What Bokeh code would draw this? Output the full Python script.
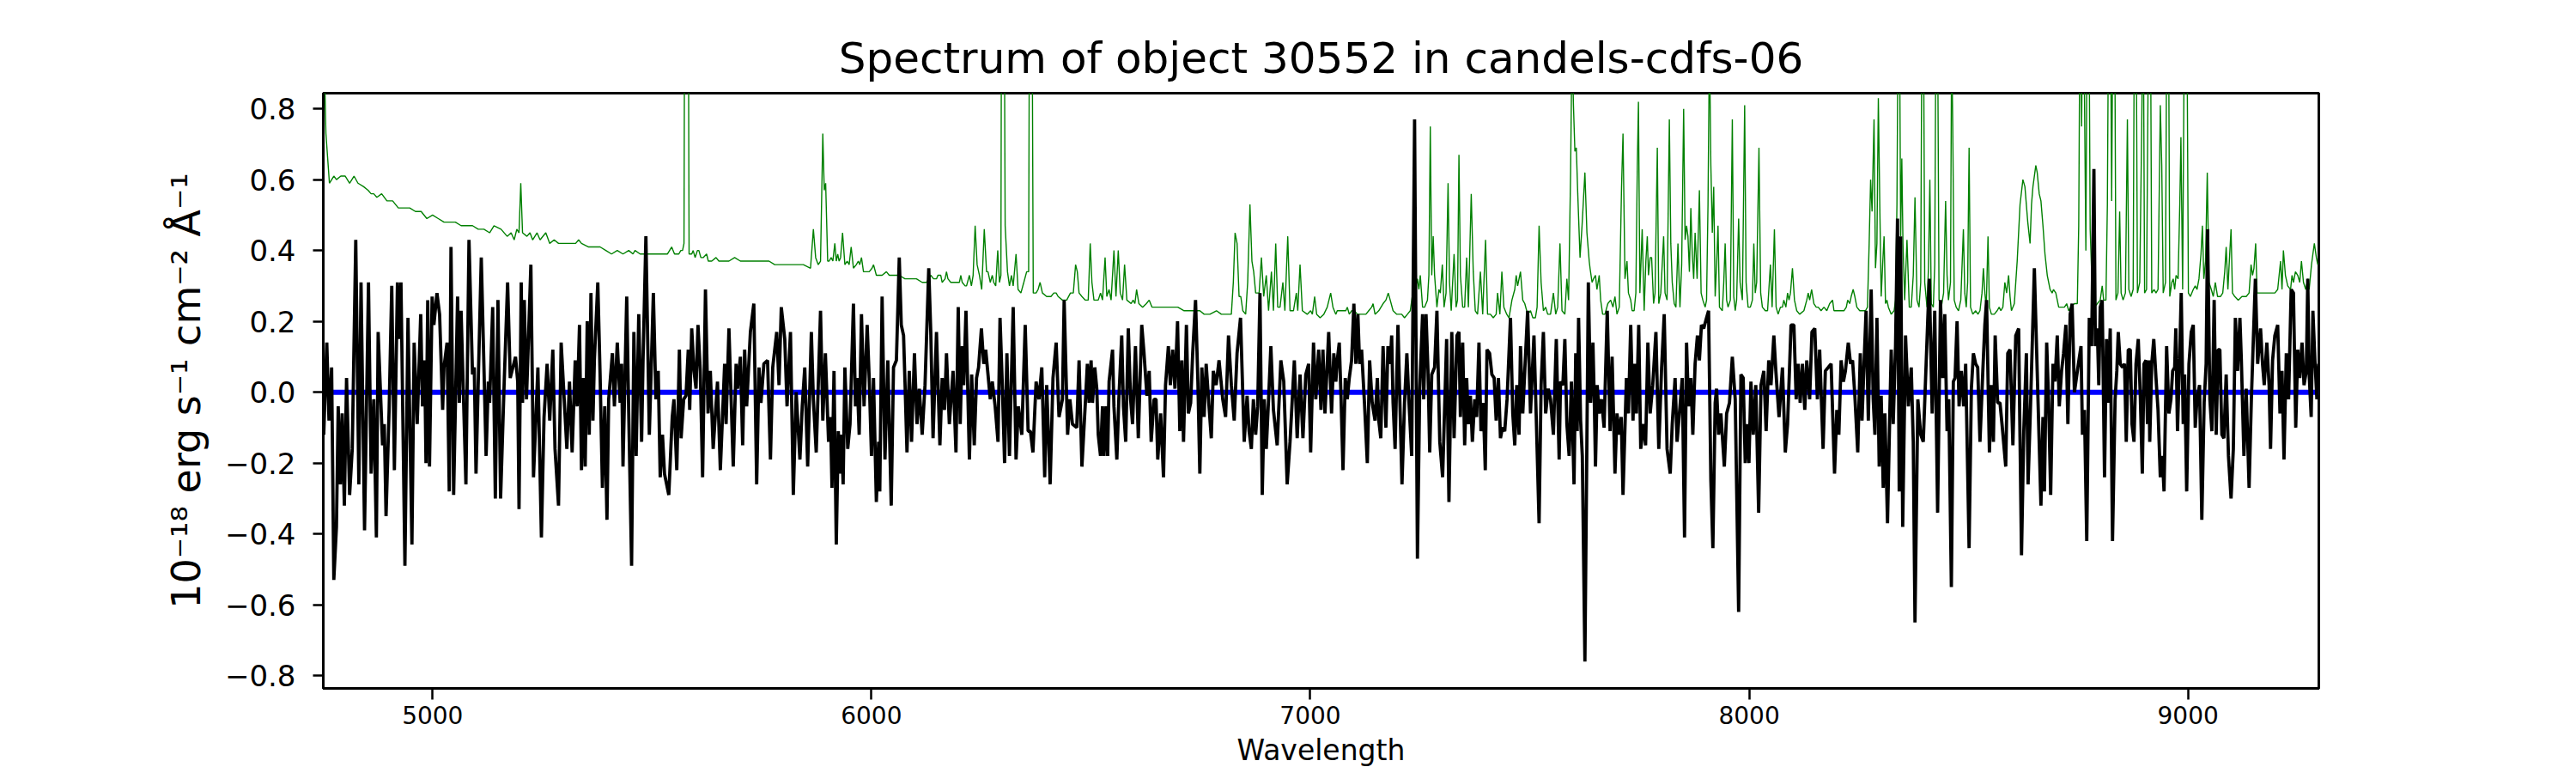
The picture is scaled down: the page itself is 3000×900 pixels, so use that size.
from bokeh.plotting import figure
from bokeh.models import Range1d, FixedTicker, CustomJSTickFormatter, Span
from bokeh.embed import file_html
from bokeh.resources import INLINE

title_text = "Spectrum of object 30552 in candels-cdfs-06"
x_label = "Wavelength"
y_label = "10\u207b\u00b9\u2078 erg s\u207b\u00b9 cm\u207b\u00b2 \u00c5\u207b\u00b9"
x_ticks = [5000, 6000, 7000, 8000, 9000]
y_ticks = [-0.8, -0.6, -0.4, -0.2, 0.0, 0.2, 0.4, 0.6, 0.8]
x_limits = (4751, 9298)
y_limits = (-0.836, 0.844)
zero_level = 0.0

# observed flux (wavelength [A], flux [1e-18 erg/s/cm2/A])
flux_samples = [
    (4752, -0.12), (4759, 0.14), (4764, -0.08), (4770, 0.07), (4775, -0.53), (4781, -0.38), (4785, -0.04),
    (4790, -0.26), (4794, -0.06), (4799, -0.32), (4804, 0.04), (4811, -0.29), (4817, -0.16), (4825, 0.43),
    (4832, -0.26), (4837, 0.31), (4845, -0.39), (4854, 0.31), (4860, -0.23), (4866, -0.02), (4872, -0.41),
    (4876, 0.17), (4886, -0.15), (4890, -0.09), (4894, -0.35), (4901, -0.05), (4907, 0.30), (4913, -0.22),
    (4920, 0.31), (4924, 0.15), (4928, 0.31), (4937, -0.49), (4944, 0.21), (4953, -0.43), (4958, 0.14),
    (4965, -0.09), (4973, 0.22), (4977, -0.04), (4982, 0.09), (4985, -0.20), (4989, 0.26), (4993, -0.21),
    (4999, 0.27), (5003, 0.19), (5010, 0.28), (5016, 0.22), (5023, -0.05), (5026, 0.07), (5033, 0.14),
    (5038, -0.28), (5042, 0.41), (5048, -0.29), (5057, 0.27), (5061, -0.03), (5065, 0.23), (5076, -0.26),
    (5083, 0.43), (5091, 0.05), (5095, 0.07), (5099, -0.23), (5111, 0.38), (5122, -0.18), (5127, 0.03),
    (5130, -0.03), (5137, 0.24), (5143, -0.30), (5149, 0.26), (5155, -0.30), (5163, 0.02), (5171, 0.31),
    (5177, 0.04), (5189, 0.10), (5194, 0.03), (5197, -0.33), (5202, 0.31), (5205, -0.03), (5209, 0.26),
    (5214, -0.02), (5224, 0.36), (5230, -0.24), (5240, 0.07), (5248, -0.41), (5254, -0.07), (5261, 0.08),
    (5267, -0.08), (5274, 0.12), (5279, -0.16), (5287, -0.32), (5293, 0.14), (5306, -0.16), (5312, 0.03),
    (5318, -0.17), (5325, 0.09),
    (5329.5, -0.04), (5334.8, 0.19), (5339.3, -0.22), (5343.9, 0.04), (5347.8, -0.21), (5352.4, 0.20),
    (5357.0, -0.12), (5360.9, 0.28), (5365.4, -0.08), (5368.7, 0.09), (5376.5, 0.31), (5381.7, 0.05),
    (5387.0, -0.27), (5392.2, -0.04), (5397.4, -0.36), (5401.3, -0.02), (5409.8, 0.11), (5414.3, -0.04),
    (5420.9, 0.14), (5427.4, -0.03), (5430.7, 0.08), (5433.9, -0.21), (5442.4, 0.27), (5447.0, -0.06),
    (5453.5, -0.49), (5458.7, 0.17), (5463.9, -0.18), (5469.8, 0.22), (5476.3, -0.14), (5479.6, 0.09),
    (5486.1, 0.44), (5493.9, -0.12), (5503.1, 0.28), (5508.9, -0.02), (5514.2, 0.06), (5518.7, -0.24),
    (5523.9, -0.12), (5528.5, -0.23), (5538.3, -0.29), (5546.1, -0.07), (5550.0, -0.02), (5556.5, -0.22),
    (5562.4, 0.12), (5566.3, -0.13), (5572.2, -0.02), (5577.4, -0.01), (5582.6, 0.12), (5585.9, -0.05),
    (5590.5, 0.18), (5595.7, 0.06), (5600.3, 0.01), (5604.8, 0.19), (5610.0, 0.06), (5615.3, -0.24),
    (5621.8, 0.29), (5627.7, -0.06), (5632.9, 0.06), (5639.4, -0.16), (5649.2, 0.03), (5655.7, -0.22),
    (5665.5, 0.08), (5668.8, -0.09), (5675.3, 0.18), (5685.1, -0.21), (5691.6, 0.08), (5694.8, 0.01),
    (5701.4, 0.10), (5706.6, -0.15), (5711.1, 0.12), (5715.7, -0.04), (5724.2, 0.17), (5732.0, 0.25),
    (5738.5, -0.26), (5743.8, 0.07), (5748.3, -0.03), (5754.9, 0.08), (5763.3, 0.09), (5769.9, -0.19),
    (5775.1, 0.07), (5784.2, 0.17), (5789.4, 0.02), (5794.6, 0.24), (5802.5, 0.15), (5807.7, -0.04),
    (5815.5, 0.17), (5822.0, -0.29), (5828.5, 0.00), (5837.0, -0.19), (5842.3, -0.04), (5848.1, 0.07),
    (5854.7, -0.21), (5863.1, 0.17), (5867.7, -0.02), (5874.2, -0.17), (5884.0, 0.23), (5889.2, -0.08),
    (5895.1, 0.11), (5902.3, -0.14),
    (5906.8, -0.07), (5910.1, -0.27), (5914.7, 0.06), (5919.9, -0.43), (5924.5, -0.11), (5928.4, -0.23),
    (5931.6, -0.12), (5935.5, -0.26), (5939.5, 0.07), (5946.0, -0.16), (5951.2, -0.09), (5959.0, 0.25),
    (5963.6, -0.04), (5967.5, 0.04), (5972.1, -0.12), (5977.3, 0.22), (5983.2, -0.04), (5990.3, 0.19),
    (5994.9, 0.04), (6000.1, -0.18), (6004.7, 0.04), (6011.2, -0.31), (6016.4, -0.14), (6019.0, -0.28),
    (6024.3, 0.27), (6030.8, -0.19), (6037.3, 0.09), (6045.1, -0.32), (6050.3, 0.07), (6056.9, 0.09),
    (6063.4, 0.38), (6068.0, 0.19), (6073.2, 0.16), (6076.4, 0.03), (6081.0, -0.17), (6086.2, 0.06),
    (6091.4, -0.14), (6098.0, 0.11), (6103.8, -0.09), (6109.1, 0.01), (6115.6, -0.12), (6122.1, 0.02),
    (6130.6, 0.35), (6135.2, 0.17), (6140.4, -0.13), (6148.2, 0.17), (6156.0, -0.15), (6161.2, 0.04),
    (6166.5, -0.05), (6171.0, 0.11), (6177.5, -0.09), (6186.0, 0.06), (6192.6, -0.17), (6197.8, 0.24),
    (6202.3, -0.09), (6206.9, 0.13), (6210.2, 0.02), (6215.4, 0.23), (6223.2, -0.19), (6228.4, 0.05),
    (6234.3, -0.15), (6239.5, 0.04), (6244.1, 0.07), (6250.6, 0.18), (6255.8, 0.08), (6260.4, 0.12),
    (6265.6, 0.05), (6270.8, -0.02), (6275.4, 0.03), (6281.9, -0.04), (6288.4, -0.14), (6293.0, 0.21),
    (6298.2, 0.02), (6303.4, -0.20), (6308.7, 0.11), (6314.5, -0.18), (6323.0, 0.24), (6329.5, -0.19),
    (6334.8, -0.04), (6342.6, -0.12), (6350.4, 0.19), (6357.0, -0.11), (6362.2, -0.11), (6368.0, -0.17),
    (6375.2, 0.03), (6381.7, -0.02), (6388.2, 0.07), (6394.8, -0.24), (6399.3, 0.02), (6407.2, -0.26),
    (6413.7, 0.04), (6420.9, 0.14), (6427.4, -0.07), (6435.2, -0.02), (6439.1, 0.26), (6447.0, -0.12),
    (6452.2, -0.02), (6458.0, -0.09), (6467.8, -0.10), (6473.1, 0.09), (6479.6, -0.21),
    (6487.4, -0.03), (6492.0, 0.08), (6495.9, -0.03), (6500.5, 0.09), (6503.7, -0.03), (6508.9, 0.07),
    (6513.5, 0.01), (6516.8, -0.12), (6522.0, -0.18), (6526.5, -0.04), (6529.8, -0.18), (6534.4, -0.04),
    (6538.3, -0.18), (6541.5, 0.03), (6549.4, 0.12), (6552.6, -0.04), (6559.2, -0.19), (6563.7, -0.02),
    (6570.3, 0.16), (6574.2, -0.04), (6579.4, -0.14), (6585.3, 0.18), (6590.5, -0.02), (6595.0, -0.09),
    (6601.6, 0.13), (6608.1, -0.13), (6615.9, 0.19), (6621.1, 0.11), (6627.7, -0.01), (6632.9, 0.06),
    (6637.4, -0.14), (6644.0, -0.02), (6648.5, -0.02), (6652.4, -0.19), (6659.0, -0.06), (6665.5, -0.24),
    (6670.1, 0.02), (6676.6, 0.13), (6681.1, 0.02), (6686.4, 0.12), (6691.6, 0.01), (6697.5, 0.20),
    (6702.7, -0.11), (6707.2, 0.09), (6711.1, -0.14), (6717.7, 0.19), (6722.2, -0.06), (6727.4, -0.03),
    (6732.0, 0.11), (6738.5, 0.26), (6743.8, 0.03), (6748.3, -0.23), (6752.9, 0.07), (6758.1, -0.07),
    (6762.7, 0.08), (6769.2, -0.04), (6774.4, -0.13), (6779.0, 0.06), (6785.5, 0.02), (6792.0, 0.09),
    (6800.5, -0.02), (6807.0, -0.07), (6813.6, 0.16), (6820.1, 0.02), (6826.6, -0.08), (6833.1, 0.11),
    (6841.0, 0.21), (6849.4, -0.14), (6856.0, -0.01), (6860.5, -0.11), (6865.7, -0.16), (6870.3, -0.02),
    (6875.5, -0.12), (6880.1, -0.04), (6885.3, 0.28), (6890.5, -0.29), (6895.1, -0.02), (6899.7, -0.16),
    (6904.9, -0.02), (6910.1, 0.13), (6916.0, -0.05), (6924.5, -0.15), (6932.9, 0.09), (6939.5, 0.03),
    (6947.3, -0.26), (6953.8, -0.14), (6963.6, 0.09), (6970.1, -0.13), (6976.6, 0.05), (6983.2, -0.13),
    (6989.7, 0.05), (6996.2, 0.08), (7000.8, -0.17), (7007.3, 0.14), (7012.5, -0.02), (7019.0, 0.12),
    (7024.3, -0.05), (7028.8, 0.12), (7033.4, -0.06), (7041.9, 0.17), (7048.4, -0.06), (7053.6, 0.11),
    (7058.2, 0.03), (7061.4, 0.09), (7066.0, 0.14), (7069.9, -0.01), (7074.5, -0.22), (7079.7, 0.04),
    (7084.3, -0.02), (7088.8, 0.04), (7094.1, 0.09), (7099.3, 0.25), (7103.8, 0.08), (7108.4, 0.22),
    (7112.3, 0.08), (7116.9, 0.12), (7123.4, -0.03), (7129.9, -0.20), (7135.2, 0.09), (7141.0, -0.03),
    (7147.5, -0.08), (7152.8, 0.04), (7156.0, -0.08), (7160.6, -0.13), (7165.8, 0.13), (7172.3, -0.10),
    (7176.9, 0.13), (7182.1, 0.08), (7185.4, 0.16), (7188.6, -0.03), (7193.2, -0.16), (7199.7, 0.19),
    (7208.9, -0.26), (7214.7, -0.03), (7220.0, 0.11), (7224.5, -0.02), (7231.0, -0.18), (7237.6, 0.77),
    (7244.1, -0.47), (7249.3, 0.01), (7255.8, 0.22), (7258.4, -0.02), (7263.7, 0.22), (7268.2, 0.06),
    (7272.1, -0.17), (7276.7, 0.05), (7283.2, 0.07), (7288.5, 0.23), (7295.0, -0.14), (7301.5, -0.24),
    (7310.6, 0.15), (7315.9, -0.31), (7322.4, 0.17), (7327.6, -0.13), (7334.1, 0.16), (7338.7, 0.17),
    (7342.0, -0.07), (7347.2, 0.14), (7351.7, -0.15), (7356.3, 0.04), (7360.2, -0.09), (7364.8, -0.01),
    (7369.3, -0.14), (7374.6, -0.02), (7379.1, -0.07), (7384.3, 0.14), (7388.9, -0.11), (7394.1, -0.03),
    (7398.7, -0.22), (7402.6, 0.12), (7408.5, 0.11), (7413.7, 0.05), (7418.9, 0.04), (7423.5, -0.08),
    (7428.7, 0.04), (7433.3, -0.13), (7437.8, -0.10), (7443.0, -0.11), (7448.3, -0.02), (7456.1, 0.21),
    (7461.3, -0.06), (7465.9, -0.15), (7470.4, 0.02), (7475.7, -0.12), (7478.9, 0.13), (7484.1, -0.06),
    (7488.7, 0.06), (7495.2, 0.23), (7501.7, -0.06), (7509.6, 0.16), (7514.8, -0.07), (7521.3, -0.37),
    (7525.9, 0.02), (7531.1, 0.17), (7536.3, -0.06), (7542.2, 0.01), (7547.4, -0.02), (7553.9, -0.12),
    (7560.5, 0.15), (7567.0, -0.19), (7570.2, 0.03), (7575.5, 0.02), (7580.0, 0.15), (7584.6, -0.09),
    (7589.8, -0.18), (7595.0, 0.03), (7600.9, -0.26), (7604.8, 0.11), (7608.1, -0.11), (7611.3, 0.21),
    (7615.9, -0.08), (7619.8, -0.18), (7625.7, -0.76), (7633.5, 0.31),
    (7638.7, -0.03), (7644.0, 0.14), (7647.2, -0.03), (7649.8, -0.21), (7653.7, 0.02), (7658.3, -0.06),
    (7663.5, -0.02), (7669.4, -0.10), (7676.6, 0.23), (7683.1, -0.11), (7687.7, 0.10), (7694.2, -0.23),
    (7698.8, -0.06), (7704.0, -0.12), (7708.5, -0.07), (7712.5, -0.29), (7720.3, 0.04), (7724.9, -0.06),
    (7730.1, 0.19), (7735.3, -0.08), (7738.6, 0.08), (7743.1, -0.06), (7748.3, 0.19), (7752.9, -0.16),
    (7759.4, -0.09), (7764.0, -0.15), (7769.2, 0.14), (7774.4, -0.06), (7780.3, 0.02), (7787.5, 0.17),
    (7794.0, -0.16), (7800.5, 0.07), (7806.4, 0.22), (7812.9, -0.16), (7820.1, -0.23), (7824.7, -0.09),
    (7831.2, 0.04), (7835.7, -0.14), (7841.0, -0.06), (7847.5, 0.04), (7852.7, -0.41), (7857.3, 0.14),
    (7861.8, -0.04), (7867.1, 0.04), (7871.6, -0.12), (7876.8, 0.08), (7882.1, 0.16), (7886.6, 0.09),
    (7891.2, 0.19), (7896.4, 0.18), (7902.9, 0.21), (7907.5, 0.23), (7912.7, -0.25), (7917.3, -0.44),
    (7922.5, -0.03), (7925.8, 0.01), (7930.3, -0.12), (7935.5, -0.06), (7943.4, -0.21), (7948.6, -0.06),
    (7955.1, -0.03), (7961.6, 0.10), (7968.2, -0.02), (7976.0, -0.62), (7981.2, 0.05), (7986.4, 0.04),
    (7991.0, -0.20), (7995.6, -0.09), (7999.5, -0.20), (8004.0, 0.03), (8009.3, -0.12), (8015.1, 0.02),
    (8021.6, -0.34), (8026.9, 0.02), (8033.4, 0.06), (8038.6, -0.11), (8044.5, 0.09), (8049.7, 0.02),
    (8056.2, 0.16), (8060.8, 0.06), (8068.0, -0.07), (8075.8, 0.07), (8082.3, -0.17), (8087.5, -0.09),
    (8095.4, 0.19), (8101.9, 0.19), (8107.1, -0.02), (8111.7, 0.08), (8116.2, -0.03), (8121.4, 0.08),
    (8126.7, -0.05), (8131.2, 0.09), (8137.8, -0.02), (8143.0, 0.17), (8149.5, 0.18), (8155.4, -0.02),
    (8160.6, 0.12), (8168.4, -0.16), (8173.6, 0.06), (8180.2, 0.07), (8186.7, 0.08), (8194.5, -0.23),
    (8199.7, -0.05), (8204.3, -0.12), (8209.5, 0.09),
    (8214.7, 0.03), (8219.3, 0.06), (8225.8, 0.14), (8231.0, 0.08), (8235.6, 0.09), (8240.8, -0.01),
    (8247.4, -0.17), (8253.2, 0.11), (8257.1, -0.08), (8261.7, 0.08), (8266.3, 0.23), (8271.5, -0.08),
    (8278.0, 0.29), (8282.6, -0.02), (8286.5, -0.12), (8291.1, 0.21), (8296.3, -0.21), (8300.8, -0.01),
    (8305.4, -0.27), (8309.3, -0.06), (8315.2, -0.37), (8320.4, -0.06), (8323.7, 0.12), (8328.2, -0.09),
    (8333.5, 0.13), (8338.0, 0.49), (8341.9, -0.28), (8345.2, 0.44), (8349.8, -0.38), (8356.3, 0.16),
    (8362.8, -0.04), (8369.3, 0.07), (8373.9, -0.14), (8377.8, -0.65), (8384.3, -0.02), (8390.9, -0.12),
    (8396.7, -0.14), (8402.0, 0.04), (8410.4, 0.32), (8417.0, -0.06), (8422.8, 0.23), (8429.4, -0.34),
    (8435.9, 0.26), (8441.1, 0.04), (8445.7, 0.22), (8450.9, -0.11), (8454.8, -0.02), (8460.7, -0.55),
    (8465.2, 0.03), (8469.1, 0.04), (8473.7, 0.20), (8478.3, -0.04), (8483.5, 0.06), (8488.7, -0.04),
    (8493.3, 0.08), (8501.1, -0.44), (8506.3, 0.01), (8510.9, 0.11), (8516.1, 0.08), (8520.7, 0.07),
    (8525.9, -0.14), (8532.4, 0.06), (8537.0, 0.19), (8540.9, 0.26), (8547.4, -0.17), (8552.0, 0.02),
    (8556.5, -0.14), (8560.5, 0.16), (8566.3, -0.03), (8571.5, -0.03), (8576.1, -0.09), (8584.6, -0.21),
    (8589.2, 0.11), (8594.4, 0.12), (8600.9, -0.15), (8607.4, 0.16), (8614.0, 0.18), (8620.5, -0.46),
    (8625.7, -0.11), (8631.6, 0.11), (8635.5, -0.26), (8641.3, -0.03), (8649.8, 0.35), (8656.3, 0.06),
    (8664.8, -0.32), (8669.4, -0.07), (8672.7, -0.28), (8677.9, 0.14), (8682.4, -0.03), (8687.0, -0.29),
    (8692.2, 0.08), (8696.8, 0.03), (8702.0, 0.16), (8706.6, -0.04), (8711.8, 0.06), (8716.4, 0.11),
    (8721.6, 0.19), (8726.2, -0.09), (8731.4, 0.22), (8735.9, 0.25), (8741.1, 0.00), (8749.0, 0.07),
    (8756.1, 0.13), (8759.4, -0.12), (8764.0, -0.05), (8769.2, -0.42), (8775.0, 0.21), (8780.3, 0.13),
    (8785.5, 0.63), (8788.8, 0.13),
    (8793.3, 0.18), (8796.6, 0.02), (8799.9, 0.24), (8804.4, 0.26), (8809.7, -0.24), (8814.2, 0.15),
    (8817.5, -0.03), (8822.7, 0.18), (8827.9, -0.42), (8833.8, -0.02), (8837.7, 0.06), (8841.0, 0.17),
    (8845.5, 0.08), (8850.7, 0.07), (8855.3, 0.08), (8859.2, -0.14), (8863.8, 0.12), (8868.4, 0.12),
    (8872.3, -0.09), (8876.8, -0.14), (8881.4, 0.08), (8886.6, 0.15), (8891.2, -0.01), (8895.8, -0.23),
    (8899.7, 0.08), (8904.2, 0.09), (8907.5, -0.09), (8910.8, 0.09), (8912.7, -0.14), (8917.3, 0.08),
    (8921.9, 0.15), (8927.0, 0.04), (8931.6, -0.05), (8936.8, -0.24), (8941.4, -0.18), (8945.3, -0.28),
    (8951.2, 0.13), (8956.4, -0.06), (8961.0, -0.02), (8964.9, 0.06), (8969.5, 0.07), (8972.1, 0.18),
    (8976.0, -0.11), (8980.6, 0.09), (8984.5, 0.28), (8989.0, -0.09), (8992.3, 0.05), (8996.9, -0.28),
    (9002.1, 0.08), (9007.3, 0.17), (9011.9, 0.19), (9016.4, -0.10), (9020.4, -0.02), (9026.2, 0.02),
    (9031.4, -0.36), (9036.7, -0.03), (9041.2, 0.08), (9044.5, 0.46), (9049.7, -0.02), (9054.3, -0.11),
    (9059.5, 0.26), (9064.1, -0.12), (9068.6, 0.12), (9072.5, 0.12), (9077.1, -0.12), (9081.7, -0.13),
    (9086.9, 0.05), (9092.1, -0.18), (9098.0, -0.30), (9103.2, -0.16), (9107.8, 0.21), (9113.0, 0.06),
    (9118.2, 0.21), (9121.5, 0.09), (9127.3, -0.18), (9132.5, 0.01), (9139.1, -0.27), (9144.3, -0.02),
    (9148.8, 0.15), (9153.4, 0.32), (9158.6, 0.08), (9165.2, 0.18), (9169.7, 0.08), (9173.6, 0.02),
    (9179.5, 0.14), (9184.7, 0.02), (9188.0, -0.16), (9192.6, 0.09), (9197.8, 0.16), (9204.3, 0.19),
    (9209.5, -0.06), (9214.1, 0.06), (9218.6, -0.19), (9223.9, 0.11), (9229.1, -0.02), (9235.0, 0.29),
    (9240.2, 0.28), (9245.4, -0.10), (9250.0, 0.12), (9254.5, 0.04), (9259.7, 0.14), (9264.3, 0.02),
    (9269.5, 0.06), (9272.8, 0.32), (9276.0, 0.05), (9280.6, -0.07), (9284.5, 0.23), (9289.1, 0.09),
    (9293.6, -0.02), (9297.6, 0.08),
]

# noise / sky spectrum (wavelength [A], value); values above the frame are clipped by the view
error_samples = [
    (4752, 1.00), (4757, 0.73), (4765, 0.59), (4775, 0.61), (4781, 0.60), (4791, 0.61), (4801, 0.61),
    (4811, 0.59), (4821, 0.61), (4830, 0.59), (4843, 0.58), (4853, 0.57), (4860, 0.56), (4866, 0.56),
    (4873, 0.55), (4884, 0.56), (4896, 0.54), (4909, 0.54), (4922, 0.52), (4935, 0.52), (4948, 0.52),
    (4961, 0.51), (4974, 0.51), (4987, 0.49), (5000, 0.50), (5013, 0.49), (5026, 0.48), (5039, 0.48),
    (5052, 0.48), (5065, 0.47), (5078, 0.47), (5091, 0.47), (5104, 0.46), (5117, 0.46), (5130, 0.45),
    (5140, 0.47), (5156, 0.46), (5170, 0.44), (5179, 0.45), (5186, 0.43), (5192, 0.46), (5197, 0.45),
    (5201, 0.59), (5205, 0.45), (5215, 0.44), (5222, 0.45), (5228, 0.43), (5238, 0.45), (5245, 0.43),
    (5258, 0.45), (5267, 0.42), (5277, 0.43), (5287, 0.42), (5300, 0.42), (5313, 0.42), (5326, 0.42),
    (5332.8, 0.43), (5339.3, 0.42), (5355.6, 0.41), (5368.7, 0.41), (5381.7, 0.41), (5394.8, 0.40),
    (5407.8, 0.39), (5420.9, 0.40), (5433.9, 0.39), (5447.0, 0.40), (5456.7, 0.39), (5461.3, 0.40),
    (5473.0, 0.39), (5486.1, 0.39), (5499.1, 0.39), (5512.2, 0.39), (5525.2, 0.39), (5535.0, 0.39),
    (5544.8, 0.41), (5551.3, 0.39), (5561.1, 0.39), (5565.7, 0.40), (5569.6, 0.40), (5572.9, 0.42),
    (5575.0, 1.50), (5582.0, 1.50), (5584.5, 0.39), (5590.5, 0.39), (5593.7, 0.40), (5598.3, 0.38),
    (5603.5, 0.40), (5606.8, 0.40), (5611.3, 0.38), (5616.6, 0.38), (5624.4, 0.39), (5628.3, 0.37),
    (5636.1, 0.37), (5645.9, 0.38), (5652.4, 0.37), (5662.2, 0.37), (5675.3, 0.37), (5688.3, 0.38),
    (5701.4, 0.37), (5714.4, 0.37), (5727.5, 0.37), (5740.5, 0.37), (5753.5, 0.37), (5766.6, 0.37),
    (5779.6, 0.36), (5792.7, 0.36), (5812.3, 0.36), (5831.8, 0.36), (5844.9, 0.36), (5861.2, 0.35),
    (5867.7, 0.46), (5872.9, 0.38), (5878.8, 0.36), (5884.0, 0.37), (5889.2, 0.73), (5892.5, 0.57),
    (5895.7, 0.59), (5900.3, 0.37),
    (5903.6, 0.37), (5908.2, 0.38), (5912.1, 0.37), (5916.6, 0.42), (5919.9, 0.37), (5923.2, 0.39),
    (5926.4, 0.37), (5929.7, 0.38), (5934.2, 0.45), (5939.5, 0.36), (5944.7, 0.37), (5949.2, 0.36),
    (5953.8, 0.41), (5959.0, 0.35), (5965.6, 0.36), (5970.1, 0.37), (5973.4, 0.36), (5977.3, 0.38),
    (5981.9, 0.34), (5988.4, 0.34), (5994.9, 0.34), (6001.4, 0.35), (6004.7, 0.36), (6011.2, 0.33),
    (6024.3, 0.33), (6034.1, 0.34), (6040.6, 0.33), (6050.3, 0.33), (6063.4, 0.33), (6076.4, 0.32),
    (6089.5, 0.32), (6102.5, 0.32), (6115.6, 0.31), (6125.4, 0.31), (6135.2, 0.33), (6141.7, 0.32),
    (6148.2, 0.32), (6151.5, 0.33), (6158.0, 0.33), (6161.2, 0.31), (6167.8, 0.32), (6171.0, 0.34),
    (6174.3, 0.32), (6180.8, 0.31), (6193.9, 0.31), (6200.4, 0.31), (6203.6, 0.33), (6206.9, 0.31),
    (6213.4, 0.30), (6216.7, 0.30), (6223.2, 0.33), (6227.8, 0.30), (6231.7, 0.33), (6236.3, 0.47),
    (6240.8, 0.36), (6246.1, 0.33), (6251.3, 0.29), (6257.1, 0.46), (6262.3, 0.34), (6265.6, 0.34),
    (6270.8, 0.31), (6275.4, 0.33), (6278.7, 0.31), (6283.2, 0.30), (6287.8, 0.40), (6291.7, 0.31),
    (6295.0, 0.33), (6296.9, 1.50), (6301.5, 1.50), (6304.7, 0.47), (6310.0, 0.34), (6314.5, 0.30),
    (6319.1, 0.33), (6323.0, 0.30), (6329.5, 0.39), (6334.1, 0.29), (6340.6, 0.28), (6347.2, 0.31),
    (6353.7, 0.34), (6358.2, 0.34), (6360.9, 1.50), (6364.8, 1.50), (6368.7, 0.28), (6375.2, 0.28),
    (6379.8, 0.29), (6384.3, 0.31), (6389.6, 0.28), (6399.3, 0.27), (6409.1, 0.27), (6415.6, 0.28),
    (6420.9, 0.28), (6425.4, 0.27), (6435.2, 0.26), (6445.0, 0.26), (6453.5, 0.28), (6460.0, 0.28),
    (6465.2, 0.36), (6469.1, 0.34), (6473.1, 0.28), (6479.6, 0.27),
    (6487.4, 0.26), (6494.0, 0.26), (6498.5, 0.42), (6502.4, 0.31), (6507.0, 0.26), (6511.5, 0.26),
    (6516.8, 0.26), (6522.0, 0.28), (6526.5, 0.26), (6532.4, 0.38), (6536.3, 0.27), (6541.5, 0.29),
    (6546.1, 0.26), (6552.6, 0.40), (6557.2, 0.27), (6562.4, 0.40), (6567.0, 0.28), (6572.2, 0.26),
    (6576.8, 0.36), (6582.0, 0.26), (6591.8, 0.25), (6596.3, 0.26), (6600.3, 0.25), (6604.2, 0.29),
    (6609.4, 0.25), (6617.9, 0.24), (6626.4, 0.25), (6632.9, 0.26), (6639.4, 0.24), (6650.5, 0.24),
    (6666.8, 0.24), (6679.8, 0.24), (6698.1, 0.24), (6712.5, 0.23), (6725.5, 0.23), (6732.0, 0.23),
    (6739.9, 0.23), (6748.3, 0.23), (6758.1, 0.22), (6771.2, 0.22), (6786.2, 0.23), (6797.3, 0.22),
    (6810.3, 0.22), (6820.1, 0.22), (6824.6, 0.31), (6828.6, 0.45), (6833.1, 0.42), (6837.7, 0.27),
    (6841.6, 0.27), (6846.2, 0.23), (6852.7, 0.22), (6857.3, 0.31), (6862.5, 0.53), (6867.0, 0.37),
    (6871.0, 0.34), (6875.5, 0.28), (6878.8, 0.28), (6883.4, 0.28), (6888.6, 0.38), (6893.8, 0.27),
    (6899.7, 0.33), (6904.9, 0.23), (6911.4, 0.34), (6916.0, 0.23), (6921.2, 0.42), (6925.8, 0.24),
    (6931.0, 0.24), (6937.5, 0.31), (6942.1, 0.23), (6948.6, 0.44), (6953.8, 0.23), (6961.6, 0.23),
    (6968.2, 0.28), (6971.4, 0.23), (6976.6, 0.36), (6981.9, 0.23), (6992.9, 0.22), (7000.8, 0.23),
    (7004.7, 0.22), (7009.9, 0.27), (7014.5, 0.22), (7022.3, 0.21), (7030.8, 0.22), (7038.6, 0.24),
    (7046.4, 0.28), (7051.6, 0.24), (7058.1, 0.22),
    (7061.4, 0.23), (7068.0, 0.23), (7074.5, 0.23), (7081.0, 0.23), (7084.3, 0.24), (7088.8, 0.22),
    (7094.1, 0.23), (7100.6, 0.23), (7107.1, 0.22), (7113.6, 0.22), (7120.2, 0.22), (7126.7, 0.22),
    (7133.2, 0.23), (7139.7, 0.24), (7143.0, 0.25), (7147.5, 0.22), (7156.0, 0.23), (7165.8, 0.25),
    (7172.3, 0.26), (7177.6, 0.28), (7182.1, 0.26), (7188.6, 0.23), (7197.1, 0.22), (7208.2, 0.22),
    (7214.7, 0.21), (7221.3, 0.22), (7227.8, 0.23), (7232.3, 0.27), (7237.6, 0.28), (7244.1, 0.32),
    (7247.4, 0.29), (7250.6, 0.33), (7255.8, 0.24), (7260.4, 0.24), (7266.9, 0.26), (7270.2, 0.33),
    (7273.4, 0.75), (7276.7, 0.33), (7280.0, 0.44), (7283.2, 0.33), (7288.5, 0.24), (7293.0, 0.29),
    (7296.3, 0.28), (7300.8, 0.36), (7304.8, 0.24), (7309.3, 0.28), (7313.9, 0.59), (7317.2, 0.31),
    (7321.1, 0.23), (7327.6, 0.39), (7332.2, 0.24), (7335.4, 0.26), (7338.7, 0.67), (7342.0, 0.33),
    (7347.2, 0.24), (7351.7, 0.24), (7356.3, 0.38), (7360.2, 0.24), (7366.7, 0.56), (7371.3, 0.34),
    (7375.9, 0.23), (7381.1, 0.22), (7387.6, 0.34), (7392.8, 0.22), (7399.3, 0.43), (7403.9, 0.22),
    (7410.4, 0.22), (7416.9, 0.21), (7423.5, 0.22), (7426.7, 0.28), (7432.0, 0.22), (7436.5, 0.34),
    (7441.1, 0.24), (7447.6, 0.22), (7452.8, 0.21), (7459.4, 0.26), (7465.9, 0.29), (7469.1, 0.33),
    (7472.4, 0.30), (7478.9, 0.34), (7484.1, 0.26), (7488.7, 0.25), (7495.2, 0.22), (7501.7, 0.23),
    (7507.0, 0.21), (7512.8, 0.21), (7516.8, 0.24), (7521.3, 0.47), (7525.9, 0.31), (7531.1, 0.23),
    (7536.3, 0.24), (7540.9, 0.22), (7547.4, 0.22), (7553.9, 0.28), (7559.2, 0.22), (7563.7, 0.24),
    (7568.9, 0.42), (7573.5, 0.23), (7580.0, 0.22), (7584.6, 0.32), (7588.5, 0.26), (7593.1, 0.62),
    (7596.3, 1.00), (7599.6, 0.81), (7602.9, 0.68), (7606.1, 0.69), (7609.4, 0.56), (7614.6, 0.38),
    (7619.2, 0.47), (7625.7, 0.62), (7630.3, 0.45), (7635.5, 0.37),
    (7637.4, 0.35), (7642.0, 0.31), (7645.3, 0.32), (7649.8, 0.33), (7653.1, 0.29), (7658.3, 0.33),
    (7661.6, 0.26), (7666.1, 0.22), (7671.4, 0.22), (7677.9, 0.25), (7684.4, 0.26), (7689.6, 0.24),
    (7694.2, 0.27), (7698.8, 0.22), (7704.0, 0.24), (7709.2, 0.58), (7712.5, 0.73), (7717.0, 0.32),
    (7721.6, 0.37), (7724.9, 0.28), (7730.1, 0.26), (7733.3, 0.23), (7737.9, 0.23), (7741.8, 0.28),
    (7745.1, 0.64), (7747.7, 0.82), (7751.0, 0.28), (7756.2, 0.46), (7760.7, 0.23), (7764.6, 0.37),
    (7767.9, 0.44), (7770.5, 0.33), (7774.4, 0.38), (7777.7, 0.38), (7782.2, 0.25), (7785.5, 0.28),
    (7790.7, 0.69), (7794.0, 0.25), (7798.6, 0.28), (7805.1, 0.44), (7808.3, 0.28), (7812.9, 0.26),
    (7818.1, 0.77), (7821.4, 0.42), (7824.7, 0.31), (7829.2, 0.25), (7833.1, 0.24), (7837.7, 0.42),
    (7842.3, 0.24), (7846.2, 0.36), (7850.7, 0.80), (7854.0, 0.43), (7857.3, 0.47), (7860.5, 0.44),
    (7863.8, 0.34), (7867.1, 0.52), (7870.3, 0.39), (7873.6, 0.32), (7876.8, 0.45), (7881.4, 0.32),
    (7886.6, 0.57), (7890.5, 0.28), (7894.4, 0.26), (7899.7, 0.24), (7902.9, 0.26), (7906.2, 0.53),
    (7909.5, 1.00), (7912.7, 0.64), (7916.0, 0.45), (7919.2, 0.58), (7922.5, 0.27), (7925.8, 0.36),
    (7929.0, 0.47), (7932.3, 0.24), (7938.8, 0.23), (7942.1, 0.31), (7945.3, 0.42), (7948.6, 0.26),
    (7951.9, 0.24), (7957.1, 0.26), (7961.6, 0.77), (7964.9, 0.27), (7968.2, 0.23), (7971.4, 0.26),
    (7976.0, 0.49), (7979.3, 0.31), (7984.5, 0.26), (7989.7, 0.81), (7993.0, 0.31), (7997.5, 0.24),
    (8002.7, 0.24), (8007.3, 0.26), (8010.6, 0.42), (8013.8, 0.28), (8017.1, 0.31), (8022.3, 0.69),
    (8026.2, 0.28), (8030.1, 0.24), (8036.7, 0.23), (8041.9, 0.23), (8048.4, 0.36), (8052.3, 0.24),
    (8057.5, 0.46), (8061.4, 0.24), (8066.0, 0.22), (8071.2, 0.24), (8075.8, 0.24), (8079.0, 0.26),
    (8083.6, 0.24), (8087.5, 0.28), (8090.8, 0.26), (8094.1, 0.28), (8098.6, 0.35), (8103.2, 0.26),
    (8108.4, 0.23), (8114.9, 0.22), (8124.7, 0.23), (8131.2, 0.26), (8134.5, 0.28), (8137.8, 0.26),
    (8142.3, 0.29), (8147.5, 0.25), (8152.8, 0.24), (8157.3, 0.24), (8163.8, 0.23), (8170.4, 0.24),
    (8176.9, 0.23), (8183.4, 0.25), (8190.0, 0.26), (8193.2, 0.23), (8199.7, 0.23), (8206.2, 0.23),
    (8212.8, 0.23),
    (8216.0, 0.23), (8221.3, 0.24), (8224.5, 0.26), (8229.1, 0.25), (8232.4, 0.27), (8236.9, 0.29),
    (8240.8, 0.27), (8245.4, 0.24), (8251.9, 0.23), (8258.4, 0.23), (8265.0, 0.23), (8269.5, 0.24),
    (8273.4, 0.42), (8276.7, 0.60), (8280.0, 0.51), (8284.5, 0.77), (8287.8, 0.35), (8291.1, 0.42),
    (8294.3, 0.83), (8297.6, 0.53), (8300.8, 0.27), (8304.1, 0.36), (8307.4, 0.44), (8310.6, 0.25),
    (8313.9, 0.26), (8317.2, 0.24), (8323.7, 0.22), (8330.2, 0.23), (8333.5, 0.26), (8336.7, 0.53),
    (8340.0, 1.20), (8341.9, 1.20), (8345.2, 0.44), (8347.8, 0.66), (8350.4, 0.42), (8354.3, 0.26),
    (8359.6, 0.43), (8364.8, 0.24), (8369.3, 0.24), (8373.9, 0.33), (8377.8, 0.55), (8382.4, 0.26),
    (8387.0, 0.24), (8390.9, 0.31), (8394.1, 1.20), (8396.7, 1.20), (8400.0, 0.31), (8405.2, 0.24),
    (8408.5, 0.35), (8411.7, 0.60), (8415.0, 0.25), (8419.6, 0.24), (8422.8, 0.36), (8426.1, 1.20),
    (8428.7, 1.20), (8432.6, 0.26), (8437.8, 0.24), (8443.0, 0.28), (8447.6, 0.54), (8450.9, 0.33),
    (8454.1, 0.26), (8458.7, 0.31), (8461.3, 1.00), (8463.9, 0.75), (8467.2, 0.26), (8471.7, 0.24),
    (8477.0, 0.23), (8482.2, 0.26), (8488.1, 0.46), (8491.3, 0.28), (8494.6, 0.24), (8497.8, 0.31),
    (8501.1, 0.69), (8504.4, 0.24), (8509.6, 0.22), (8516.1, 0.23), (8521.3, 0.22), (8525.9, 0.23),
    (8530.5, 0.28), (8533.7, 0.35), (8537.0, 0.28), (8540.2, 0.24), (8544.2, 0.44), (8547.4, 0.24),
    (8552.0, 0.22), (8558.5, 0.22), (8565.0, 0.23), (8569.6, 0.24), (8573.5, 0.23), (8578.1, 0.24),
    (8582.6, 0.31), (8586.6, 0.28), (8591.1, 0.33), (8594.4, 0.27), (8597.6, 0.23), (8604.2, 0.25),
    (8610.7, 0.37), (8617.2, 0.53), (8623.7, 0.60), (8628.3, 0.58), (8634.8, 0.48), (8640.0, 0.42),
    (8643.3, 0.53), (8646.6, 0.58), (8653.1, 0.64), (8656.3, 0.62), (8660.9, 0.56), (8664.8, 0.54),
    (8669.4, 0.47), (8674.0, 0.39), (8679.2, 0.33), (8685.7, 0.29), (8690.3, 0.28), (8693.5, 0.29),
    (8698.7, 0.28), (8705.3, 0.24), (8711.8, 0.24), (8718.3, 0.24), (8723.5, 0.25), (8728.1, 0.23),
    (8732.7, 0.24), (8741.1, 0.25), (8747.7, 0.25), (8750.9, 0.47), (8754.2, 1.20), (8757.5, 0.75),
    (8760.7, 1.20), (8764.0, 0.84), (8767.2, 0.40), (8770.5, 1.20), (8773.8, 1.20), (8777.0, 0.46),
    (8780.3, 0.34), (8783.6, 0.28), (8786.8, 0.24),
    (8793.3, 0.25), (8799.9, 0.26), (8804.4, 0.30), (8807.7, 0.26), (8812.9, 0.26), (8816.2, 0.53),
    (8819.4, 1.20), (8822.7, 1.20), (8826.0, 0.54), (8829.2, 1.20), (8832.5, 1.20), (8835.7, 0.26),
    (8840.3, 0.28), (8844.2, 0.51), (8847.5, 0.28), (8852.0, 0.26), (8857.3, 0.28), (8861.8, 0.77),
    (8865.1, 0.29), (8870.3, 0.27), (8874.9, 0.29), (8878.1, 1.20), (8881.4, 1.20), (8884.7, 0.28),
    (8889.9, 0.31), (8894.5, 0.75), (8897.7, 1.20), (8901.0, 0.28), (8905.5, 0.29), (8910.8, 1.20),
    (8914.0, 1.20), (8917.3, 0.28), (8922.5, 0.29), (8927.0, 0.28), (8931.6, 0.29), (8936.8, 0.81),
    (8940.1, 0.64), (8943.4, 0.28), (8948.6, 0.31), (8951.9, 1.20), (8955.1, 1.20), (8958.4, 0.27),
    (8963.0, 0.31), (8966.2, 0.32), (8969.5, 0.29), (8972.7, 0.33), (8977.3, 0.32), (8981.2, 0.53),
    (8983.8, 0.72), (8987.7, 0.29), (8992.3, 1.20), (8996.9, 1.20), (9000.8, 0.28), (9005.3, 0.27),
    (9011.9, 0.29), (9016.4, 0.30), (9020.4, 0.29), (9024.9, 0.32), (9029.5, 0.39), (9032.7, 0.47),
    (9036.0, 0.32), (9039.9, 0.37), (9043.8, 0.62), (9047.7, 0.31), (9053.0, 0.29), (9057.5, 0.27),
    (9062.1, 0.31), (9067.3, 0.27), (9073.8, 0.27), (9079.1, 0.28), (9083.6, 0.34), (9086.9, 0.41),
    (9090.8, 0.29), (9094.1, 0.37), (9098.0, 0.46), (9101.2, 0.28), (9106.5, 0.27), (9114.3, 0.26),
    (9122.8, 0.27), (9132.5, 0.27), (9139.1, 0.28), (9143.6, 0.36), (9146.9, 0.33), (9150.2, 0.35),
    (9154.1, 0.42), (9157.3, 0.28), (9161.9, 0.28), (9168.4, 0.28), (9174.9, 0.28), (9181.5, 0.28),
    (9191.3, 0.28), (9197.8, 0.28), (9204.3, 0.29), (9210.8, 0.37), (9214.1, 0.29), (9217.3, 0.40),
    (9221.9, 0.33), (9227.1, 0.30), (9233.6, 0.29), (9236.9, 0.33), (9240.2, 0.31), (9244.7, 0.34),
    (9250.0, 0.33), (9254.5, 0.31), (9258.4, 0.37), (9263.0, 0.31), (9268.2, 0.29), (9272.8, 0.32),
    (9276.0, 0.29), (9281.3, 0.36), (9284.5, 0.39), (9287.8, 0.42), (9292.4, 0.38), (9295.6, 0.36),
]

flux_wave = [w for w, _ in flux_samples]
flux_vals = [v for _, v in flux_samples]
err_wave = [w for w, _ in error_samples]
err_vals = [v for _, v in error_samples]

FONT = "DejaVu Sans"

p = figure(width=2984, height=900, output_backend="svg", toolbar_location=None,
           x_range=Range1d(*x_limits), y_range=Range1d(*y_limits),
           min_border_left=376, min_border_right=284, min_border_top=108, min_border_bottom=99,
           background_fill_color="white", border_fill_color="white")

p.title.text = title_text
p.title.align = "center"
p.title.text_font = FONT
p.title.text_font_size = "50px"
p.title.text_font_style = "normal"
p.title.text_color = "black"
p.title.standoff = 24

p.xgrid.visible = False
p.ygrid.visible = False
p.outline_line_color = "black"
p.outline_line_width = 3
p.outline_line_alpha = 1.0

zero = Span(location=zero_level, dimension="width", line_color="#0000ff", line_width=6, level="underlay")
p.add_layout(zero)

p.line(err_wave, err_vals, line_color="#008000", line_width=1.4)
p.line(flux_wave, flux_vals, line_color="black", line_width=3.8)

xa = p.xaxis[0]
xa.ticker = FixedTicker(ticks=x_ticks)
xa.axis_label = x_label
xa.axis_label_text_font = FONT
xa.axis_label_text_font_size = "33px"
xa.axis_label_text_font_style = "normal"
xa.axis_label_text_color = "black"
xa.axis_label_standoff = 8
xa.major_label_text_font = FONT
xa.major_label_text_font_size = "28px"
xa.major_label_text_color = "black"
xa.major_label_standoff = 7
xa.major_tick_out = 13
xa.major_tick_in = 0
xa.major_tick_line_width = 2.5
xa.major_tick_line_color = "black"
xa.minor_tick_line_color = None
xa.axis_line_width = 3
xa.axis_line_color = "black"

ya = p.yaxis[0]
ya.ticker = FixedTicker(ticks=y_ticks)
ya.formatter = CustomJSTickFormatter(
    code="return (tick < -1e-9 ? '\u2212' : '') + Math.abs(tick).toFixed(1);")
ya.axis_label = y_label
ya.axis_label_text_font = FONT
ya.axis_label_text_font_size = "46px"
ya.axis_label_text_font_style = "normal"
ya.axis_label_text_color = "black"
ya.axis_label_standoff = 15
ya.major_label_text_font = FONT
ya.major_label_text_font_size = "34px"
ya.major_label_text_color = "black"
ya.major_label_standoff = 20
ya.major_tick_out = 12
ya.major_tick_in = 0
ya.major_tick_line_width = 2.5
ya.major_tick_line_color = "black"
ya.minor_tick_line_color = None
ya.axis_line_width = 3
ya.axis_line_color = "black"

open("out.html", "w").write(file_html(p, INLINE))
